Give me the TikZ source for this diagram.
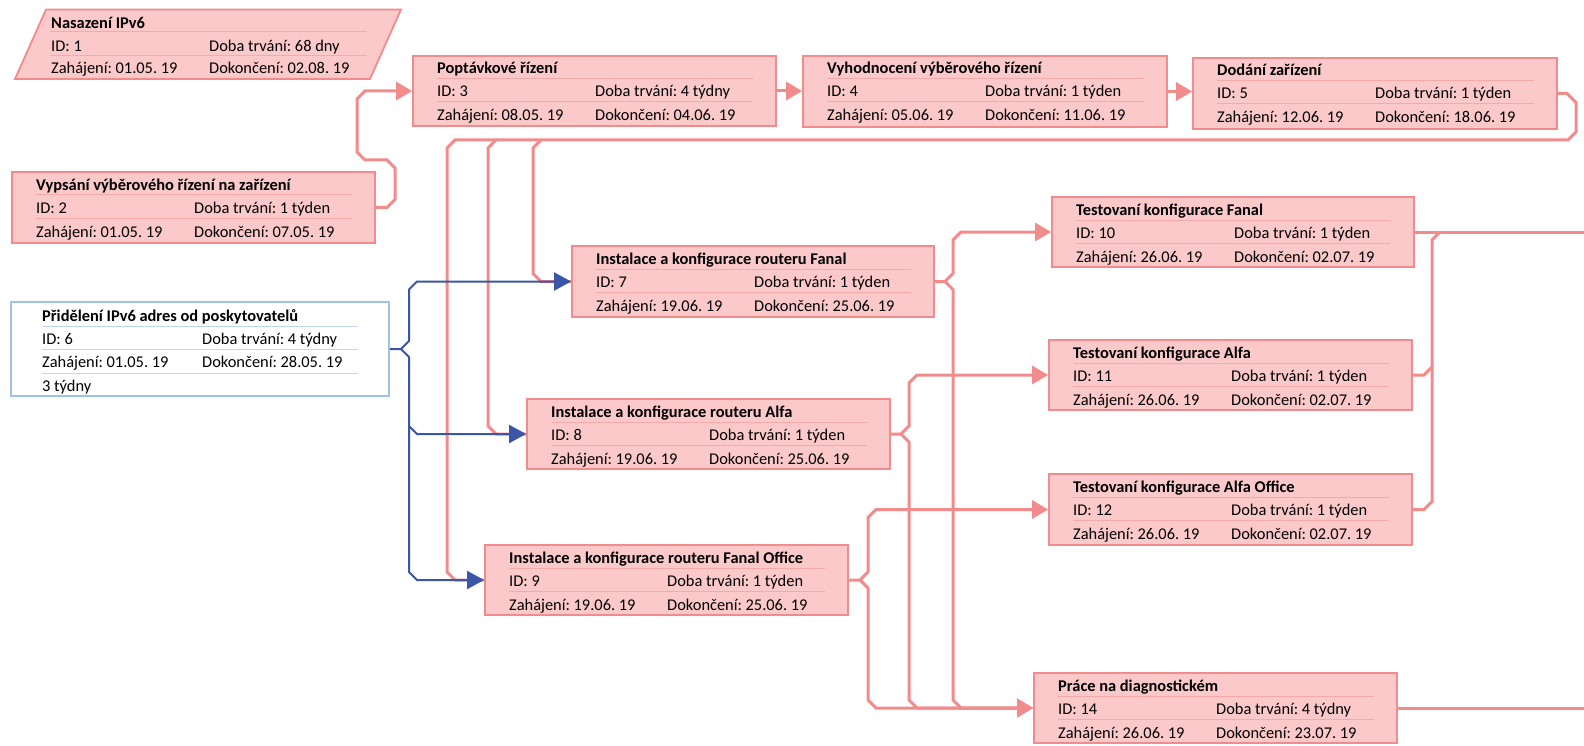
\documentclass[tikz,border=0pt]{standalone}
\usepackage{fontspec}
\setmainfont{Carlito}
\usetikzlibrary{arrows.meta,fit}

\definecolor{taskfill}{HTML}{FBC9C9}
\definecolor{taskline}{HTML}{F28B8B}
\definecolor{tasksep}{HTML}{F5AAAA}
\definecolor{sumline}{HTML}{9DC3E6}
\definecolor{sumsep}{HTML}{BDD7EE}
\definecolor{linkblue}{HTML}{3B56A8}

\tikzset{
  taskrect/.style={draw=taskline, fill=taskfill, line width=1.8pt, inner sep=0pt},
  sumrect/.style={draw=sumline, fill=white, line width=1.5pt, inner sep=0pt},
  tasktext/.style={anchor=base west, inner sep=0pt, font=\fontsize{16.4}{19}\selectfont},
  tasktitle/.style={anchor=base west, inner sep=0pt, font=\fontsize{16.4}{19}\selectfont\bfseries},
  sepline/.style={draw=tasksep, line width=1pt},
  sumsepline/.style={draw=sumsep, line width=1pt},
  pinkconn/.style={draw=taskline, line width=3pt},
  pinkarrow/.style={draw=taskline, line width=3pt, -{Triangle[length=16pt,width=18pt]}},
  blueconn/.style={draw=linkblue, line width=2pt},
  bluearrow/.style={draw=linkblue, line width=2pt, -{Triangle[length=17pt,width=18pt]}},
}

% task box: name, x1, y1, x2, y2, title, id, duration, start, finish
\newcommand\taskbox[9]{%
  \node[taskrect, fit={(#2,#3) (#4,#5)}] (#1) {};
  \def\tkName{#1}\def\tkX{#2}\def\tkY{#3}\def\tkXX{#4}%
  \def\tkTitle{#6}\def\tkId{#7}\def\tkDur{#8}\def\tkStart{#9}%
  \taskboxrows}
\newcommand\taskboxrows[1]{%
  \draw[sepline] (\tkX+24,\tkY+23) -- (\tkXX-23,\tkY+23);
  \draw[sepline] (\tkX+24,\tkY+46) -- (\tkXX-23,\tkY+46);
  \node[tasktitle] (\tkName-title) at (\tkX+24,\tkY+18) {\tkTitle};
  \node[tasktext] (\tkName-id) at (\tkX+24,\tkY+41) {ID: \tkId};
  \node[tasktext] (\tkName-dur) at (\tkX+182,\tkY+41) {Doba trvání: \tkDur};
  \node[tasktext] (\tkName-start) at (\tkX+24,\tkY+65) {Zahájení: \tkStart};
  \node[tasktext] (\tkName-end) at (\tkX+182,\tkY+65) {Dokončení: #1};
}

\frenchspacing
\begin{document}
\begin{tikzpicture}[x=1pt,y=-1pt]
\useasboundingbox (0,0) rectangle (1584,746);
\fill[white] (0,0) rectangle (1584,746);

% summary task
\node[inner sep=0pt, fit={(15,9.5) (401,79)}] (n1) {};
\filldraw[draw=taskline, fill=taskfill, line width=1.8pt] (46,9.5) -- (401,9.5) -- (370,79) -- (15,79) -- cycle;
\draw[sepline] (50,32) -- (367,32);
\draw[sepline] (50,56) -- (367,56);
\node[tasktitle] (n1-title) at (51,29) {Nasazení IPv6};
\node[tasktext] (n1-id) at (51,51.5) {ID: 1};
\node[tasktext] (n1-dur) at (209,51.5) {Doba trvání: 68 dny};
\node[tasktext] (n1-start) at (51,74) {Zahájení: 01.05. 19};
\node[tasktext] (n1-end) at (209,74) {Dokončení: 02.08. 19};

% tasks
\taskbox{n2}{12}{172}{375}{243}{Vypsání výběrového řízení na zařízení}{2}{1 týden}{01.05. 19}{07.05. 19}
\taskbox{n3}{413}{56}{776}{126}{Poptávkové řízení}{3}{4 týdny}{08.05. 19}{04.06. 19}
\taskbox{n4}{803}{56}{1167}{127}{Vyhodnocení výběrového řízení}{4}{1 týden}{05.06. 19}{11.06. 19}
\taskbox{n5}{1193}{58}{1557}{129}{Dodání zařízení}{5}{1 týden}{12.06. 19}{18.06. 19}
\taskbox{n7}{572}{246}{934}{317}{Instalace a konfigurace routeru Fanal}{7}{1 týden}{19.06. 19}{25.06. 19}
\taskbox{n8}{527}{399}{890}{469}{Instalace a konfigurace routeru Alfa}{8}{1 týden}{19.06. 19}{25.06. 19}
\taskbox{n9}{485}{545}{848}{615}{Instalace a konfigurace routeru Fanal Office}{9}{1 týden}{19.06. 19}{25.06. 19}
\taskbox{n10}{1052}{197}{1414}{267}{Testovaní konfigurace Fanal}{10}{1 týden}{26.06. 19}{02.07. 19}
\taskbox{n11}{1049}{340}{1412}{410}{Testovaní konfigurace Alfa}{11}{1 týden}{26.06. 19}{02.07. 19}
\taskbox{n12}{1049}{474}{1412}{545}{Testovaní konfigurace Alfa Office}{12}{1 týden}{26.06. 19}{02.07. 19}
\taskbox{n14}{1034}{673}{1397}{743}{Práce na diagnostickém}{14}{4 týdny}{26.06. 19}{23.07. 19}

% external task
\node[sumrect, fit={(11,302) (389,396)}] (n6) {};
\draw[sumsepline] (42,326) -- (358,326);
\draw[sumsepline] (42,349) -- (358,349);
\draw[sumsepline] (42,373) -- (358,373);
\node[tasktitle] (n6-title) at (42,321) {Přidělení IPv6 adres od poskytovatelů};
\node[tasktext] (n6-id) at (42,344) {ID: 6};
\node[tasktext] (n6-dur) at (202,344) {Doba trvání: 4 týdny};
\node[tasktext] (n6-start) at (42,367) {Zahájení: 01.05. 19};
\node[tasktext] (n6-end) at (202,367) {Dokončení: 28.05. 19};
\node[tasktext] (n6-extra) at (42,391) {3 týdny};

% junctions and free ends
\coordinate (j5a) at (541,140);
\coordinate (j5b) at (496,140);
\coordinate (j6) at (401,349);
\coordinate (j6b) at (409,426);
\coordinate (j7) at (945,281.5);
\coordinate (j8) at (901,434);
\coordinate (j9) at (860,580);
\coordinate (jr) at (1432,367);
\coordinate (outA) at (1584,232);
\coordinate (outB) at (1584,708);

% links
\draw[pinkarrow] (n2.east) -- (387,207.5) -- (395,199.5) -- (395,168) -- (387,160) -- (365,160) -- (357,152) -- (357,99) -- (365,91) -- (n3.west);
\draw[pinkarrow] (n3.east) -- (n3.east -| n4.west);
\draw[pinkarrow] (n4.east) -- (n4.east -| n5.west);

\draw[pinkconn] (n5.east) -- (1567,93.5) -- (1576,102.5) -- (1576,132) -- (1568,140) -- (455,140) -- (447,148) -- (447,572) -- (455,580) -- (n9.west);
\draw[pinkconn] (j5b) -- (488,148) -- (488,426) -- (496,434) -- (n8.west);
\draw[pinkconn] (j5a) -- (533,148) -- (533,273.5) -- (541,281.5) -- (n7.west);

\draw[bluearrow] (n6.east) -- (j6) -- (409,341) -- (409,289.5) -- (417,281.5) -- (n7.west);
\draw[bluearrow] (j6) -- (409,357) -- (409,572) -- (417,580) -- (n9.west);
\draw[bluearrow] (j6b) -- (417,434) -- (n8.west);

\draw[pinkarrow] (n7.east) -- (j7) -- (953,273.5) -- (953,240) -- (961,232) -- (n10.west);
\draw[pinkarrow] (j7) -- (953,289.5) -- (953,700) -- (961,708) -- (n14.west);
\draw[pinkarrow] (n8.east) -- (j8) -- (909,426) -- (909,383) -- (917,375) -- (n11.west);
\draw[pinkarrow] (j8) -- (909,442) -- (909,700) -- (917,708) -- (n14.west);
\draw[pinkarrow] (n9.east) -- (j9) -- (868,572) -- (868,517.5) -- (876,509.5) -- (n12.west);
\draw[pinkarrow] (j9) -- (868,588) -- (868,700) -- (876,708) -- (n14.west);

\draw[pinkconn] (n10.east) -- (outA);
\draw[pinkconn] (n11.east) -- (1424,375) -- (jr) -- (1432,240) -- (1440,232);
\draw[pinkconn] (n12.east) -- (1424,509.5) -- (1432,501.5) -- (jr);
\draw[pinkconn] (n14.east) -- (outB);
\end{tikzpicture}
\end{document}
